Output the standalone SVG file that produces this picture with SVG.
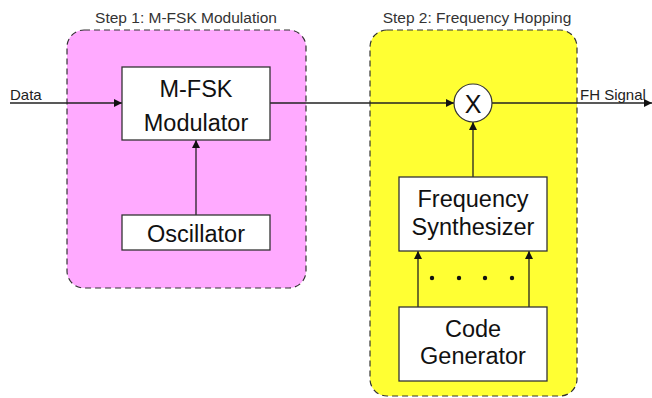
<svg xmlns="http://www.w3.org/2000/svg" width="652" height="398" viewBox="0 0 652 398">
<defs>
<style>
.grp{stroke:#333;stroke-width:1.2;stroke-dasharray:6,4}
.box{fill:#fff;stroke:#333;stroke-width:1.3}
.t{font-family:"Liberation Sans",Arial,sans-serif;fill:#111;text-anchor:middle}
.big{font-size:23.5px}
.lab{font-size:15.5px;fill:#333}
.sm{font-size:15px;fill:#222;text-anchor:start}
.wire{stroke:#222;stroke-width:1.3;fill:none}
</style>
<marker id="ah" viewBox="0 0 10 10" refX="10" refY="5" markerWidth="8" markerHeight="8" markerUnits="userSpaceOnUse" orient="auto">
<path d="M0,0 L10,5 L0,10 z" fill="#111"/>
</marker>
</defs>
<rect width="652" height="398" fill="#fff"/>
<g id="step1">
<rect class="grp" x="67" y="30" width="239" height="258" rx="17" fill="#FFAAFF"/>
<text class="t lab" x="186" y="23">Step 1: M-FSK Modulation</text>
</g>
<g id="step2">
<rect class="grp" x="370" y="30" width="207" height="366" rx="17" fill="#FFFF33"/>
<text class="t lab" x="477" y="23">Step 2: Frequency Hopping</text>
</g>
<g id="connectors">
<line class="wire" x1="10" y1="103" x2="122" y2="103" marker-end="url(#ah)"/>
<line class="wire" x1="196" y1="215" x2="196" y2="140" marker-end="url(#ah)"/>
<line class="wire" x1="270" y1="103" x2="454" y2="103" marker-end="url(#ah)"/>
<line class="wire" x1="492" y1="103" x2="652" y2="103" marker-end="url(#ah)"/>
<line class="wire" x1="473" y1="177" x2="473" y2="122" marker-end="url(#ah)"/>
<line class="wire" x1="418" y1="307" x2="418" y2="251" marker-end="url(#ah)"/>
<line class="wire" x1="529" y1="307" x2="529" y2="251" marker-end="url(#ah)"/>
<circle cx="432" cy="278" r="2.2" fill="#111"/>
<circle cx="459" cy="278" r="2.2" fill="#111"/>
<circle cx="485" cy="278" r="2.2" fill="#111"/>
<circle cx="512" cy="278" r="2.2" fill="#111"/>
<text class="t sm" x="10" y="100">Data</text>
<text class="t sm" x="580" y="100">FH Signal</text>
</g>
<g id="modulator">
<rect class="box" x="122" y="67" width="148" height="73"/>
<text class="t big" x="196" y="97">M-FSK</text>
<text class="t big" x="196" y="130.5">Modulator</text>
</g>
<g id="oscillator">
<rect class="box" x="122" y="215" width="148" height="35"/>
<text class="t big" x="196" y="242">Oscillator</text>
</g>
<g id="mixer">
<circle cx="473" cy="103" r="19" fill="#fff" stroke="#333" stroke-width="1.2"/>
<text class="t" x="473" y="113" style="font-size:25px">X</text>
</g>
<g id="synthesizer">
<rect class="box" x="399" y="177" width="148" height="74"/>
<text class="t big" x="473" y="206.5">Frequency</text>
<text class="t big" x="473" y="235">Synthesizer</text>
</g>
<g id="codegen">
<rect class="box" x="399" y="307" width="148" height="74"/>
<text class="t big" x="473" y="336.5">Code</text>
<text class="t big" x="473" y="364">Generator</text>
</g>
</svg>
